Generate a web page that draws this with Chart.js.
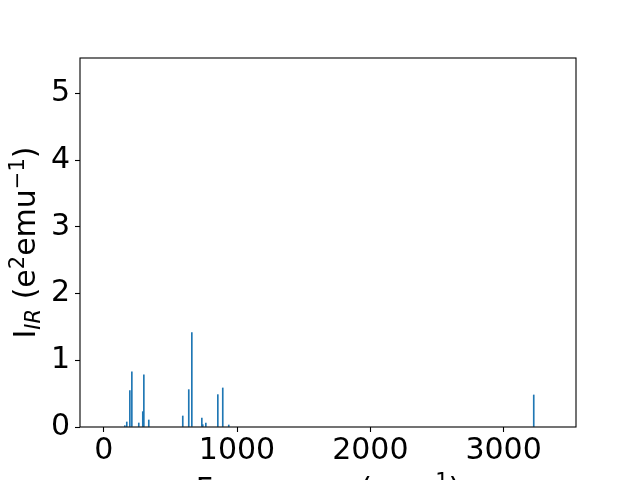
<!DOCTYPE html>
<html>
<head>
<meta charset="utf-8">
<script src="https://cdn.jsdelivr.net/npm/chart.js@4"></script>
<style>
html,body{margin:0;padding:0;background:#fff;overflow:hidden;}
#wrap{width:640px;height:480px;position:relative;}
</style>
</head>
<body>
<div id="wrap"><canvas id="c" width="640" height="480"></canvas></div>
<script>
// Frequencies (cm^-1) and IR intensities
const frequencies = [158, 173, 196, 211, 263, 293, 301, 338, 593, 638, 661, 736, 743, 766, 856, 893, 938, 3226];
const intensities = [0.02, 0.075, 0.545, 0.825, 0.06, 0.23, 0.78, 0.105, 0.165, 0.56, 1.415, 0.135, 0.035, 0.06, 0.485, 0.585, 0.03, 0.48];
const xTicks = [0, 1000, 2000, 3000];
const yTicks = [0, 1, 2, 3, 4, 5];
const xRange = [-178, 3543];
const yRange = [0, 5.53];

const FONT = "'DejaVu Sans', sans-serif";

function drawParts(ctx, parts, x, y, align) {
  let total = 0;
  parts.forEach(p => {
    ctx.font = (p.italic ? 'italic ' : '') + p.size + 'px ' + FONT;
    p.w = ctx.measureText(p.t).width;
    total += p.w;
  });
  let cx = align === 'center' ? x - total / 2 : x;
  parts.forEach(p => {
    ctx.font = (p.italic ? 'italic ' : '') + p.size + 'px ' + FONT;
    ctx.fillText(p.t, cx, y + p.dy);
    cx += p.w;
  });
}

const decor = {
  id: 'decor',
  afterDraw(chart) {
    const ctx = chart.ctx;
    const a = chart.chartArea;
    ctx.save();
    ctx.strokeStyle = '#000';
    ctx.lineWidth = 1.1;
    ctx.strokeRect(a.left, a.top, a.right - a.left, a.bottom - a.top);
    ctx.fillStyle = '#000';
    ctx.textBaseline = 'alphabetic';
    drawParts(ctx, [
      {t: 'Frequency (cm', size: 30, dy: 0},
      {t: '\u22121', size: 21, dy: -11},
      {t: ')', size: 30, dy: 0}
    ], (a.left + a.right) / 2, 499, 'center');
    ctx.translate(35, (a.top + a.bottom) / 2);
    ctx.rotate(-Math.PI / 2);
    drawParts(ctx, [
      {t: 'I', size: 30, dy: 0},
      {t: 'IR', size: 21, dy: 5, italic: true},
      {t: ' (e', size: 30, dy: 0},
      {t: '2', size: 21, dy: -11},
      {t: 'emu', size: 30, dy: 0},
      {t: '\u22121', size: 21, dy: -11},
      {t: ')', size: 30, dy: 0}
    ], 0, 0, 'center');
    ctx.restore();
  }
};

new Chart(document.getElementById('c'), {
  type: 'bar',
  data: {
    datasets: [{
      data: frequencies.map((f, i) => ({x: f, y: intensities[i]})),
      backgroundColor: '#1f77b4',
      borderWidth: 0,
      barThickness: 1
    }]
  },
  options: {
    responsive: false,
    animation: false,
    events: [],
    layout: {padding: {left: 0, top: 58, right: 64, bottom: 0}},
    plugins: {legend: {display: false}, tooltip: {enabled: false}},
    scales: {
      x: {
        type: 'linear',
        offset: false,
        min: xRange[0], max: xRange[1],
        afterBuildTicks: s => { s.ticks = xTicks.map(v => ({value: v})); },
        afterFit: s => { s.height = 53; },
        grid: {display: true, drawOnChartArea: false, drawTicks: true, tickLength: 5, tickColor: '#000', tickWidth: 1.1, offset: false},
        border: {display: false},
        ticks: {color: '#000', font: {family: FONT, size: 30}, padding: 1, maxRotation: 0, autoSkip: false,
                callback: v => String(v)}
      },
      y: {
        min: yRange[0], max: yRange[1],
        afterBuildTicks: s => { s.ticks = yTicks.map(v => ({value: v})); },
        afterFit: s => { s.width = 80; },
        grid: {display: true, drawOnChartArea: false, drawTicks: true, tickLength: 5, tickColor: '#000', tickWidth: 1.1},
        border: {display: false},
        ticks: {color: '#000', font: {family: FONT, size: 30}, padding: 5, autoSkip: false,
                callback: v => String(v)}
      }
    }
  },
  plugins: [decor]
});
</script>
</body>
</html>
